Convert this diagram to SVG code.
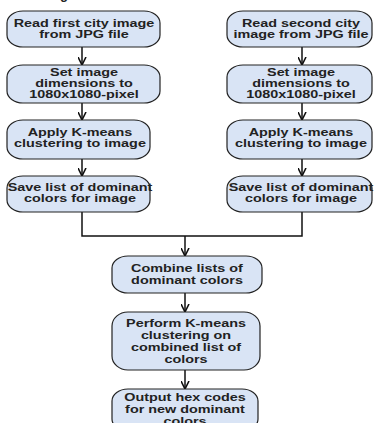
<svg xmlns="http://www.w3.org/2000/svg" width="374" height="423" viewBox="0 0 374 423">
<style>
.box{fill:#d9e4f5;stroke:#222;stroke-width:1.2}
.t{font-family:"Liberation Sans",Arial,sans-serif;font-weight:bold;font-size:10px;fill:#222;text-anchor:middle}
.c{fill:none;stroke:#111;stroke-width:1.5}
</style>
<defs>
<marker id="ah" markerUnits="userSpaceOnUse" markerWidth="9" markerHeight="9" viewBox="0 0 9 9" refX="8.5" refY="4.5" orient="auto">
<path d="M0.5,0.5 L8.5,4.5 L0.5,8.5" fill="none" stroke="#111" stroke-width="1.6"/>
</marker>
</defs>
<rect width="374" height="423" fill="#fff"/>
<text x="60" y="-1" style="font-family:'Liberation Sans',sans-serif;font-size:13px;font-weight:bold;fill:#222">g</text>
<g id="connectors">
<line class="c" x1="82" y1="47" x2="82" y2="65" marker-end="url(#ah)"/>
<line class="c" x1="82" y1="103" x2="82" y2="120" marker-end="url(#ah)"/>
<line class="c" x1="82" y1="159" x2="82" y2="176" marker-end="url(#ah)"/>
<line class="c" x1="302" y1="47" x2="302" y2="65" marker-end="url(#ah)"/>
<line class="c" x1="302" y1="103" x2="302" y2="120" marker-end="url(#ah)"/>
<line class="c" x1="302" y1="159" x2="302" y2="176" marker-end="url(#ah)"/>
<polyline class="c" points="82,212 82,236 302,236 302,212"/>
<line class="c" x1="185" y1="236" x2="185" y2="256" marker-end="url(#ah)"/>
<line class="c" x1="185" y1="293" x2="185" y2="312" marker-end="url(#ah)"/>
<line class="c" x1="185" y1="370" x2="185" y2="389" marker-end="url(#ah)"/>
</g>
<g id="l1"><rect class="box" x="7" y="11" width="153" height="36" rx="16" ry="12"/>
<text class="t" transform="translate(84 27) scale(1.44 1)"><tspan x="0">Read first city image</tspan><tspan x="0" dy="11">from JPG file</tspan></text></g>
<g id="l2"><rect class="box" x="7" y="65" width="153" height="38" rx="16" ry="12"/>
<text class="t" transform="translate(84 76) scale(1.44 1)"><tspan x="0">Set image</tspan><tspan x="0" dy="11">dimensions to</tspan><tspan x="0" dy="11">1080x1080-pixel</tspan></text></g>
<g id="l3"><rect class="box" x="7" y="120" width="143" height="39" rx="16" ry="12"/>
<text class="t" transform="translate(80 136) scale(1.44 1)"><tspan x="0">Apply K-means</tspan><tspan x="0" dy="11">clustering to image</tspan></text></g>
<g id="l4"><rect class="box" x="7" y="176" width="143" height="36" rx="16" ry="12"/>
<text class="t" transform="translate(80 191) scale(1.44 1)"><tspan x="0">Save list of dominant</tspan><tspan x="0" dy="11">colors for image</tspan></text></g>
<g id="r1"><rect class="box" x="227" y="11" width="145" height="36" rx="16" ry="12"/>
<text class="t" transform="translate(301 27) scale(1.44 1)"><tspan x="0">Read second city</tspan><tspan x="0" dy="11">image from JPG file</tspan></text></g>
<g id="r2"><rect class="box" x="227" y="65" width="145" height="38" rx="16" ry="12"/>
<text class="t" transform="translate(301 76) scale(1.44 1)"><tspan x="0">Set image</tspan><tspan x="0" dy="11">dimensions to</tspan><tspan x="0" dy="11">1080x1080-pixel</tspan></text></g>
<g id="r3"><rect class="box" x="227" y="120" width="145" height="39" rx="16" ry="12"/>
<text class="t" transform="translate(301 136) scale(1.44 1)"><tspan x="0">Apply K-means</tspan><tspan x="0" dy="11">clustering to image</tspan></text></g>
<g id="r4"><rect class="box" x="227" y="176" width="145" height="36" rx="16" ry="12"/>
<text class="t" transform="translate(301 191) scale(1.44 1)"><tspan x="0">Save list of dominant</tspan><tspan x="0" dy="11">colors for image</tspan></text></g>
<g id="combine"><rect class="box" x="112" y="256" width="150" height="37" rx="16" ry="12"/>
<text class="t" transform="translate(187 272) scale(1.44 1)"><tspan x="0">Combine lists of</tspan><tspan x="0" dy="12">dominant colors</tspan></text></g>
<g id="perform"><rect class="box" x="112" y="312" width="148" height="58" rx="16" ry="14"/>
<text class="t" transform="translate(186 327) scale(1.44 1)"><tspan x="0">Perform K-means</tspan><tspan x="0" dy="12">clustering on</tspan><tspan x="0" dy="12">combined list of</tspan><tspan x="0" dy="12">colors</tspan></text></g>
<g id="output"><rect class="box" x="112" y="389" width="146" height="42" rx="16" ry="12"/>
<text class="t" transform="translate(185 401) scale(1.44 1)"><tspan x="0">Output hex codes</tspan><tspan x="0" dy="12">for new dominant</tspan><tspan x="0" dy="12">colors</tspan></text></g>
</svg>
